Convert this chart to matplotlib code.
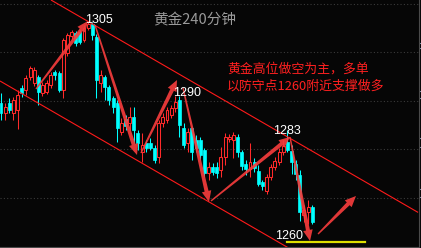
import matplotlib
matplotlib.use('Agg')
import matplotlib.pyplot as plt
from matplotlib.patches import Rectangle, Polygon
from matplotlib.transforms import IdentityTransform
import numpy as np

plt.rcParams['font.family'] = ['Noto Sans CJK SC', 'DejaVu Sans']

# 黄金 240 分钟 K线 (开, 高, 低, 收)
opens = [1288.6, 1286.5, 1288.6, 1286.5, 1287.1, 1291.7, 1291.2, 1293.9, 1292.7, 1293.9,
         1290.6, 1290.8, 1292.3, 1295.0, 1294.7, 1291.2, 1298.9, 1302.4, 1303.0, 1303.2,
         1301.6, 1304.0, 1304.9, 1302.2, 1292.7, 1293.9, 1291.9, 1289.6, 1288.6, 1282.6,
         1285.3, 1284.4, 1285.7, 1282.4, 1278.5, 1280.3, 1280.3, 1279.3, 1277.4, 1284.4,
         1285.1, 1286.1, 1287.5, 1289.2, 1283.4, 1280.3, 1283.4, 1280.9, 1280.9, 1278.9,
         1274.1, 1275.4, 1275.4, 1274.7, 1277.4, 1281.2, 1280.9, 1281.6, 1278.5, 1276.0,
         1275.0, 1276.4, 1274.5, 1272.3, 1270.4, 1273.3, 1275.4, 1276.4, 1278.5, 1280.5,
         1278.7, 1276.0, 1273.7, 1265.5, 1266.1, 1267.1]
highs = [1290.6, 1288.6, 1289.6, 1289.8, 1291.2, 1292.3, 1294.3, 1296.2, 1296.0, 1294.3,
         1292.9, 1293.3, 1295.0, 1295.4, 1295.2, 1302.0, 1303.0, 1303.6, 1303.4, 1303.6,
         1304.6, 1305.3, 1305.3, 1302.8, 1295.4, 1294.3, 1292.3, 1290.0, 1289.2, 1285.5,
         1286.1, 1287.7, 1287.7, 1283.0, 1282.4, 1280.9, 1281.3, 1279.9, 1285.1, 1286.5,
         1287.7, 1288.2, 1290.0, 1290.0, 1284.4, 1283.4, 1283.6, 1282.0, 1281.6, 1279.3,
         1276.4, 1276.2, 1276.4, 1279.5, 1282.4, 1282.2, 1282.6, 1282.2, 1278.9, 1276.8,
         1280.3, 1277.2, 1275.8, 1272.7, 1273.9, 1276.0, 1277.4, 1279.3, 1280.9, 1283.0,
         1279.9, 1276.8, 1274.7, 1267.5, 1268.6, 1267.5]
lows = [1285.1, 1285.1, 1286.5, 1285.1, 1283.2, 1289.8, 1290.2, 1293.3, 1292.1, 1288.2,
        1290.0, 1290.4, 1291.7, 1293.3, 1290.8, 1289.6, 1298.3, 1301.6, 1300.3, 1300.7,
        1301.1, 1303.6, 1301.6, 1289.6, 1290.8, 1289.2, 1288.2, 1286.5, 1280.5, 1282.0,
        1283.0, 1283.0, 1280.3, 1278.9, 1276.4, 1278.5, 1278.9, 1276.2, 1276.2, 1283.6,
        1284.4, 1285.5, 1286.7, 1281.6, 1279.3, 1278.5, 1276.8, 1278.5, 1276.8, 1273.3,
        1272.7, 1273.7, 1273.1, 1273.3, 1275.8, 1280.5, 1277.2, 1277.4, 1274.7, 1273.7,
        1273.3, 1274.3, 1271.4, 1270.6, 1269.8, 1272.7, 1274.7, 1275.8, 1277.8, 1278.5,
        1273.9, 1272.7, 1264.2, 1264.0, 1263.6, 1263.6]
closes = [1286.5, 1287.7, 1287.1, 1289.2, 1290.2, 1290.6, 1293.7, 1295.8, 1295.4, 1290.8,
          1292.3, 1292.7, 1294.3, 1294.3, 1291.2, 1301.6, 1302.6, 1303.2, 1300.9, 1301.1,
          1304.0, 1304.9, 1302.6, 1293.3, 1294.3, 1291.9, 1289.2, 1287.7, 1283.4, 1284.4,
          1283.8, 1285.7, 1283.0, 1280.3, 1279.9, 1279.3, 1279.3, 1276.8, 1284.4, 1285.7,
          1287.1, 1287.5, 1288.8, 1284.0, 1279.9, 1282.6, 1278.5, 1279.3, 1277.8, 1274.1,
          1275.4, 1274.3, 1274.1, 1277.4, 1281.6, 1281.6, 1282.0, 1278.5, 1275.6, 1275.0,
          1276.4, 1275.2, 1271.9, 1271.4, 1273.3, 1275.4, 1276.6, 1278.5, 1279.7, 1278.9,
          1276.4, 1273.9, 1266.1, 1266.5, 1267.1, 1264.0]

grid_prices = [1309, 1299, 1289, 1279, 1269]
side_marks = [1301.0, 1299.8, 1291.1, 1289.5, 1281.3, 1279.5, 1270.8, 1269.2]

# 通道线 (K线序号, 价格)
upper_channel = [(12.05, 1309.8), (100.5, 1266.0)]
lower_channel = [(-0.24, 1293.1), (69.64, 1258.5)]

# 箭头 起点 -> 终点
arrows = [((8.43, 1291.45), (20.96, 1305.47)),
          ((22.65, 1304.65), (32.77, 1277.84)),
          ((33.73, 1278.25), (42.41, 1293.30)),
          ((43.86, 1291.66), (50.12, 1268.15)),
          ((50.60, 1268.36), (69.64, 1281.55)),
          ((69.64, 1281.55), (74.46, 1260.11)),
          ((76.39, 1261.55), (85.54, 1269.39))]

# 关键点位标注
key_labels = ['1305', '1290', '1283', '1260']
key_pos = [(23.6, 1305.7), (44.8, 1290.6), (68.9, 1282.8), (69.5, 1261.1)]
support_level = 1260.0
support_span = (68.9, 87.7)

bg = '#060606'
red = '#ff2a2a'
cyan = '#00ffff'
arrow_red = '#f43c3c'

W, H = 421, 248
fig = plt.figure(figsize=(W / 100, H / 100), dpi=100, facecolor=bg)
ax = fig.add_axes([0, 1 / H, 418.5 / W, 247 / H])
ax.set_facecolor(bg)
ax.set_xlim(-0.24, 100.6)
ax.set_ylim(1258.87, 1309.8)

for s in ['left', 'top']:
    ax.spines[s].set_visible(False)
for s in ['right', 'bottom']:
    ax.spines[s].set_color('#4a4a4a')
    ax.spines[s].set_linewidth(0.8)

ax.set_xticks([])
ax.yaxis.tick_right()
ax.set_yticks(side_marks)
ax.set_yticklabels([])
ax.tick_params(axis='y', colors='#7f8fa6', length=2.5, width=0.8, direction='out')

for g in grid_prices:
    ax.axhline(g, color='#3a3a3a', lw=0.8, linestyle=(0, (1, 2)), zorder=1)

# K线
bw = 0.72
for i in range(len(opens)):
    o, h, l, c = opens[i], highs[i], lows[i], closes[i]
    up = c >= o
    col = red if up else cyan
    ax.vlines(i, l, h, color=col, lw=0.75, zorder=2)
    bottom = min(o, c)
    height = max(abs(c - o), 0.15)
    if up:
        ax.add_patch(Rectangle((i - bw / 2, bottom), bw, height, facecolor=bg,
                               edgecolor=col, lw=0.75, zorder=3))
    else:
        ax.add_patch(Rectangle((i - bw / 2, bottom), bw, height, facecolor=col,
                               edgecolor=col, lw=0.5, zorder=3))

# 通道
for line in [upper_channel, lower_channel]:
    xs = [p[0] for p in line]
    ys = [p[1] for p in line]
    ax.plot(xs, ys, color='#ff1a1a', lw=0.8, zorder=4, solid_capstyle='butt')

# 支撑线
ax.plot(support_span, [support_level, support_level], color='#dede00', lw=1.6, zorder=4)

fig.canvas.draw()


def draw_arrow(start, end, color):
    p0 = ax.transData.transform(start)
    p1 = ax.transData.transform(end)
    d = p1 - p0
    L = np.hypot(d[0], d[1])
    u = d / L
    n = np.array([-u[1], u[0]])
    hl, hw, w0, w1 = 11, 4.8, 0.7, 2.0
    b = p1 - u * hl
    pts = [p0 + n * w0, b + n * w1, b + n * hw, p1, b - n * hw, b - n * w1, p0 - n * w0]
    ax.add_patch(Polygon(pts, closed=True, transform=IdentityTransform(),
                         facecolor=color, edgecolor='none', alpha=0.92, zorder=5))


for a in arrows:
    draw_arrow(a[0], a[1], arrow_red)

for t, (x, y) in zip(key_labels, key_pos):
    ax.text(x, y, t, color='white', fontsize=9, ha='center', va='center',
            family=['Liberation Sans', 'DejaVu Sans'], zorder=6)

fig.text(153 / W, 1 - 20 / H, '黄金240分钟', color='#9a9a9a', fontsize=10.5,
         ha='left', va='center')
fig.text(227 / W, 1 - 69 / H, '黄金高位做空为主，多单', color='#ff2020', fontsize=9.3,
         ha='left', va='center')
fig.text(227 / W, 1 - 86 / H, '以防守点1260附近支撑做多', color='#ff2020', fontsize=9.3,
         ha='left', va='center')

fig.savefig('out.png', dpi=100, facecolor=bg)
